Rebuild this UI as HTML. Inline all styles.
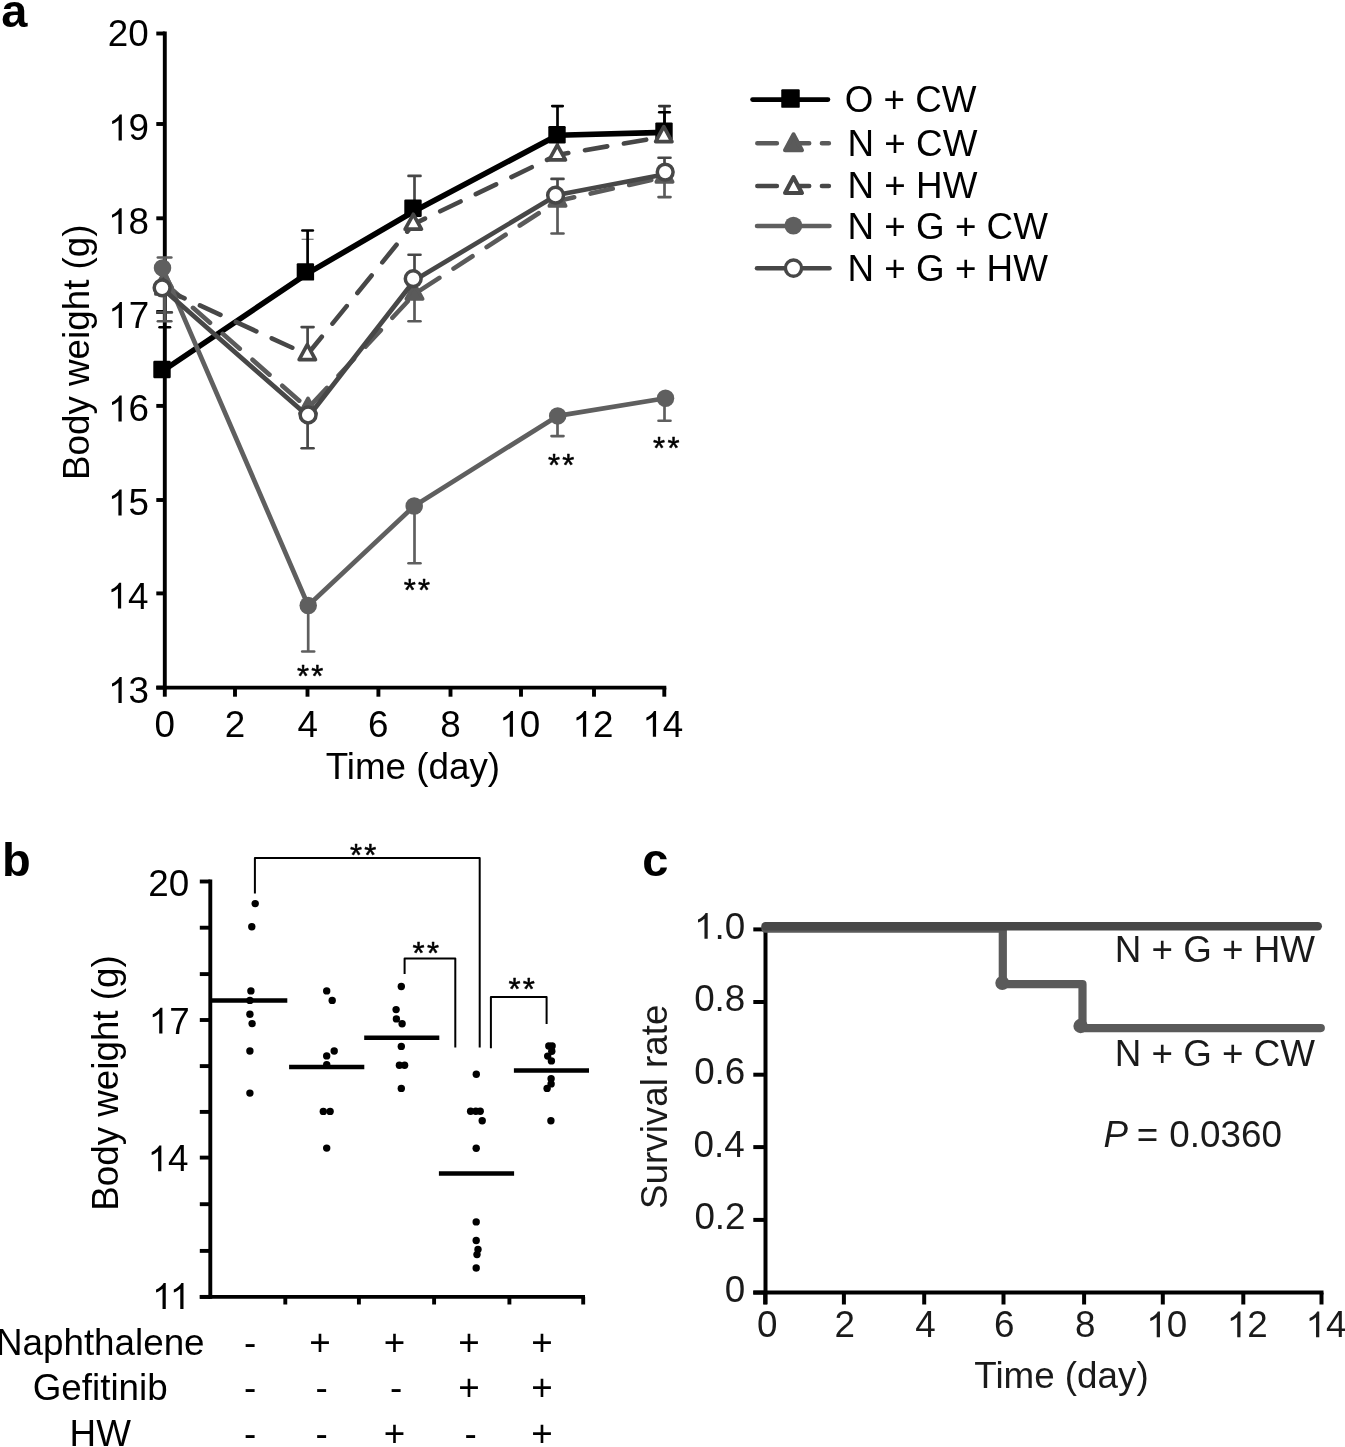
<!DOCTYPE html>
<html><head><meta charset="utf-8"><style>
html,body{margin:0;padding:0;background:#fff;}
svg{display:block;will-change:transform;}
text{font-family:"Liberation Sans", sans-serif;}
</style></head><body>
<svg width="1345" height="1447" viewBox="0 0 1345 1447">
<rect width="1345" height="1447" fill="#fff"/>
<g transform="translate(1.32,27.00) scale(1,1.0)"><text x="0" y="0" font-size="47" font-weight="bold" font-style="normal" fill="#000">a</text></g>
<line x1="164.8" y1="31.55" x2="164.8" y2="689.5" stroke="#000" stroke-width="3.9" stroke-linecap="butt"/>
<line x1="156.3" y1="33.5" x2="164.8" y2="33.5" stroke="#000" stroke-width="3.9" stroke-linecap="butt"/>
<line x1="156.3" y1="124" x2="164.8" y2="124" stroke="#000" stroke-width="3.9" stroke-linecap="butt"/>
<line x1="156.3" y1="218.3" x2="164.8" y2="218.3" stroke="#000" stroke-width="3.9" stroke-linecap="butt"/>
<line x1="156.3" y1="312" x2="164.8" y2="312" stroke="#000" stroke-width="3.9" stroke-linecap="butt"/>
<line x1="156.3" y1="405.9" x2="164.8" y2="405.9" stroke="#000" stroke-width="3.9" stroke-linecap="butt"/>
<line x1="156.3" y1="500" x2="164.8" y2="500" stroke="#000" stroke-width="3.9" stroke-linecap="butt"/>
<line x1="156.3" y1="593.4" x2="164.8" y2="593.4" stroke="#000" stroke-width="3.9" stroke-linecap="butt"/>
<line x1="156.3" y1="687.6" x2="164.8" y2="687.6" stroke="#000" stroke-width="3.9" stroke-linecap="butt"/>
<line x1="156.3" y1="687.6" x2="666.3" y2="687.6" stroke="#000" stroke-width="3.9" stroke-linecap="butt"/>
<line x1="164.8" y1="687.6" x2="164.8" y2="696.7" stroke="#000" stroke-width="3.9" stroke-linecap="butt"/>
<line x1="235" y1="687.6" x2="235" y2="696.7" stroke="#000" stroke-width="3.9" stroke-linecap="butt"/>
<line x1="307.5" y1="687.6" x2="307.5" y2="696.7" stroke="#000" stroke-width="3.9" stroke-linecap="butt"/>
<line x1="378.4" y1="687.6" x2="378.4" y2="696.7" stroke="#000" stroke-width="3.9" stroke-linecap="butt"/>
<line x1="450.5" y1="687.6" x2="450.5" y2="696.7" stroke="#000" stroke-width="3.9" stroke-linecap="butt"/>
<line x1="521" y1="687.6" x2="521" y2="696.7" stroke="#000" stroke-width="3.9" stroke-linecap="butt"/>
<line x1="594" y1="687.6" x2="594" y2="696.7" stroke="#000" stroke-width="3.9" stroke-linecap="butt"/>
<line x1="664.3" y1="687.6" x2="664.3" y2="696.7" stroke="#000" stroke-width="3.9" stroke-linecap="butt"/>
<g transform="translate(107.80,45.60) scale(1,1.02)"><text x="0" y="0" font-size="36.8" font-weight="normal" font-style="normal" fill="#000">20</text></g>
<g transform="translate(108.11,140.40) scale(1,1.02)"><path d="M13.71,0.00L10.48,0.00L10.48,-19.67C9.70,-18.97 8.68,-18.27 7.42,-17.56C6.16,-16.86 5.03,-16.33 4.02,-15.97L4.02,-18.95C5.84,-19.76 7.42,-20.76 8.77,-21.92C10.12,-23.09 11.07,-24.22 11.63,-25.32L13.71,-25.32Z" fill="#000"/><text x="20.47" y="0" font-size="36.8" fill="#000">9</text></g>
<g transform="translate(107.97,234.00) scale(1,1.02)"><path d="M13.71,0.00L10.48,0.00L10.48,-19.67C9.70,-18.97 8.68,-18.27 7.42,-17.56C6.16,-16.86 5.03,-16.33 4.02,-15.97L4.02,-18.95C5.84,-19.76 7.42,-20.76 8.77,-21.92C10.12,-23.09 11.07,-24.22 11.63,-25.32L13.71,-25.32Z" fill="#000"/><text x="20.47" y="0" font-size="36.8" fill="#000">8</text></g>
<g transform="translate(108.22,327.90) scale(1,1.02)"><path d="M13.71,0.00L10.48,0.00L10.48,-19.67C9.70,-18.97 8.68,-18.27 7.42,-17.56C6.16,-16.86 5.03,-16.33 4.02,-15.97L4.02,-18.95C5.84,-19.76 7.42,-20.76 8.77,-21.92C10.12,-23.09 11.07,-24.22 11.63,-25.32L13.71,-25.32Z" fill="#000"/><text x="20.47" y="0" font-size="36.8" fill="#000">7</text></g>
<g transform="translate(107.98,421.40) scale(1,1.02)"><path d="M13.71,0.00L10.48,0.00L10.48,-19.67C9.70,-18.97 8.68,-18.27 7.42,-17.56C6.16,-16.86 5.03,-16.33 4.02,-15.97L4.02,-18.95C5.84,-19.76 7.42,-20.76 8.77,-21.92C10.12,-23.09 11.07,-24.22 11.63,-25.32L13.71,-25.32Z" fill="#000"/><text x="20.47" y="0" font-size="36.8" fill="#000">6</text></g>
<g transform="translate(107.91,515.40) scale(1,1.02)"><path d="M13.71,0.00L10.48,0.00L10.48,-19.67C9.70,-18.97 8.68,-18.27 7.42,-17.56C6.16,-16.86 5.03,-16.33 4.02,-15.97L4.02,-18.95C5.84,-19.76 7.42,-20.76 8.77,-21.92C10.12,-23.09 11.07,-24.22 11.63,-25.32L13.71,-25.32Z" fill="#000"/><text x="20.47" y="0" font-size="36.8" fill="#000">5</text></g>
<g transform="translate(107.45,608.60) scale(1,1.02)"><path d="M13.71,0.00L10.48,0.00L10.48,-19.67C9.70,-18.97 8.68,-18.27 7.42,-17.56C6.16,-16.86 5.03,-16.33 4.02,-15.97L4.02,-18.95C5.84,-19.76 7.42,-20.76 8.77,-21.92C10.12,-23.09 11.07,-24.22 11.63,-25.32L13.71,-25.32Z" fill="#000"/><text x="20.47" y="0" font-size="36.8" fill="#000">4</text></g>
<g transform="translate(107.98,702.90) scale(1,1.02)"><path d="M13.71,0.00L10.48,0.00L10.48,-19.67C9.70,-18.97 8.68,-18.27 7.42,-17.56C6.16,-16.86 5.03,-16.33 4.02,-15.97L4.02,-18.95C5.84,-19.76 7.42,-20.76 8.77,-21.92C10.12,-23.09 11.07,-24.22 11.63,-25.32L13.71,-25.32Z" fill="#000"/><text x="20.47" y="0" font-size="36.8" fill="#000">3</text></g>
<g transform="translate(154.57,736.80) scale(1,1.02)"><text x="0" y="0" font-size="36.8" font-weight="normal" font-style="normal" fill="#000">0</text></g>
<g transform="translate(224.77,736.80) scale(1,1.02)"><text x="0" y="0" font-size="36.8" font-weight="normal" font-style="normal" fill="#000">2</text></g>
<g transform="translate(297.38,736.80) scale(1,1.02)"><text x="0" y="0" font-size="36.8" font-weight="normal" font-style="normal" fill="#000">4</text></g>
<g transform="translate(368.04,736.80) scale(1,1.02)"><text x="0" y="0" font-size="36.8" font-weight="normal" font-style="normal" fill="#000">6</text></g>
<g transform="translate(440.27,736.80) scale(1,1.02)"><text x="0" y="0" font-size="36.8" font-weight="normal" font-style="normal" fill="#000">8</text></g>
<g transform="translate(499.24,736.80) scale(1,1.02)"><path d="M13.71,0.00L10.48,0.00L10.48,-19.67C9.70,-18.97 8.68,-18.27 7.42,-17.56C6.16,-16.86 5.03,-16.33 4.02,-15.97L4.02,-18.95C5.84,-19.76 7.42,-20.76 8.77,-21.92C10.12,-23.09 11.07,-24.22 11.63,-25.32L13.71,-25.32Z" fill="#000"/><text x="20.47" y="0" font-size="36.8" fill="#000">0</text></g>
<g transform="translate(572.45,736.80) scale(1,1.02)"><path d="M13.71,0.00L10.48,0.00L10.48,-19.67C9.70,-18.97 8.68,-18.27 7.42,-17.56C6.16,-16.86 5.03,-16.33 4.02,-15.97L4.02,-18.95C5.84,-19.76 7.42,-20.76 8.77,-21.92C10.12,-23.09 11.07,-24.22 11.63,-25.32L13.71,-25.32Z" fill="#000"/><text x="20.47" y="0" font-size="36.8" fill="#000">2</text></g>
<g transform="translate(642.36,736.80) scale(1,1.02)"><path d="M13.71,0.00L10.48,0.00L10.48,-19.67C9.70,-18.97 8.68,-18.27 7.42,-17.56C6.16,-16.86 5.03,-16.33 4.02,-15.97L4.02,-18.95C5.84,-19.76 7.42,-20.76 8.77,-21.92C10.12,-23.09 11.07,-24.22 11.63,-25.32L13.71,-25.32Z" fill="#000"/><text x="20.47" y="0" font-size="36.8" fill="#000">4</text></g>
<g transform="translate(325.67,779.40) scale(1,1.02)"><text x="0" y="0" font-size="36.8" font-weight="normal" font-style="normal" fill="#000">Time (day)</text></g>
<g transform="translate(89.00,480.02) rotate(-90) scale(1,1.02)"><text x="0" y="0" font-size="36.8" fill="#000">Body weight (g)</text></g>
<line x1="164.6" y1="268" x2="164.6" y2="257.5" stroke="#5f5f5f" stroke-width="2.7" stroke-linecap="butt"/>
<line x1="157.85" y1="257.5" x2="171.35" y2="257.5" stroke="#5f5f5f" stroke-width="2.6" stroke-linecap="round"/>
<line x1="164.6" y1="288" x2="164.6" y2="312.4" stroke="#474747" stroke-width="2.7" stroke-linecap="butt"/>
<line x1="157.35" y1="312.4" x2="171.85" y2="312.4" stroke="#474747" stroke-width="2.6" stroke-linecap="round"/>
<line x1="164.6" y1="288" x2="164.6" y2="321.2" stroke="#5a5a5a" stroke-width="2.7" stroke-linecap="butt"/>
<line x1="157.85" y1="321.2" x2="171.35" y2="321.2" stroke="#5a5a5a" stroke-width="2.6" stroke-linecap="round"/>
<line x1="307.6" y1="354.6" x2="307.6" y2="327.1" stroke="#474747" stroke-width="2.7" stroke-linecap="butt"/>
<line x1="301.6" y1="327.1" x2="313.6" y2="327.1" stroke="#474747" stroke-width="2.6" stroke-linecap="round"/>
<line x1="307.6" y1="415" x2="307.6" y2="448.2" stroke="#474747" stroke-width="2.7" stroke-linecap="butt"/>
<line x1="301.6" y1="448.2" x2="313.6" y2="448.2" stroke="#474747" stroke-width="2.6" stroke-linecap="round"/>
<line x1="308.2" y1="605.5" x2="308.2" y2="651.5" stroke="#5f5f5f" stroke-width="2.7" stroke-linecap="butt"/>
<line x1="302.2" y1="651.5" x2="314.2" y2="651.5" stroke="#5f5f5f" stroke-width="2.6" stroke-linecap="round"/>
<line x1="414.5" y1="224.2" x2="414.5" y2="175.9" stroke="#474747" stroke-width="2.7" stroke-linecap="butt"/>
<line x1="408.5" y1="175.9" x2="420.5" y2="175.9" stroke="#474747" stroke-width="2.6" stroke-linecap="round"/>
<line x1="414.5" y1="279" x2="414.5" y2="254.8" stroke="#474747" stroke-width="2.7" stroke-linecap="butt"/>
<line x1="408.5" y1="254.8" x2="420.5" y2="254.8" stroke="#474747" stroke-width="2.6" stroke-linecap="round"/>
<line x1="414.5" y1="295.4" x2="414.5" y2="321.2" stroke="#5a5a5a" stroke-width="2.7" stroke-linecap="butt"/>
<line x1="408.5" y1="321.2" x2="420.5" y2="321.2" stroke="#5a5a5a" stroke-width="2.6" stroke-linecap="round"/>
<line x1="414.5" y1="506" x2="414.5" y2="563.2" stroke="#5f5f5f" stroke-width="2.7" stroke-linecap="butt"/>
<line x1="408.5" y1="563.2" x2="420.5" y2="563.2" stroke="#5f5f5f" stroke-width="2.6" stroke-linecap="round"/>
<line x1="557.5" y1="195.2" x2="557.5" y2="178.9" stroke="#474747" stroke-width="2.7" stroke-linecap="butt"/>
<line x1="551.5" y1="178.9" x2="563.5" y2="178.9" stroke="#474747" stroke-width="2.6" stroke-linecap="round"/>
<line x1="557.5" y1="204.2" x2="557.5" y2="233.5" stroke="#5a5a5a" stroke-width="2.7" stroke-linecap="butt"/>
<line x1="551.5" y1="233.5" x2="563.5" y2="233.5" stroke="#5a5a5a" stroke-width="2.6" stroke-linecap="round"/>
<line x1="557.5" y1="416" x2="557.5" y2="436.1" stroke="#5f5f5f" stroke-width="2.7" stroke-linecap="butt"/>
<line x1="551.5" y1="436.1" x2="563.5" y2="436.1" stroke="#5f5f5f" stroke-width="2.6" stroke-linecap="round"/>
<line x1="557.5" y1="155" x2="557.5" y2="140" stroke="#474747" stroke-width="2.7" stroke-linecap="butt"/>
<line x1="551.5" y1="140" x2="563.5" y2="140" stroke="#474747" stroke-width="2.6" stroke-linecap="round"/>
<line x1="664.5" y1="136.6" x2="664.5" y2="106.1" stroke="#333" stroke-width="2.7" stroke-linecap="butt"/>
<line x1="659.25" y1="106.1" x2="669.75" y2="106.1" stroke="#333" stroke-width="2.6" stroke-linecap="round"/>
<line x1="664.5" y1="172.1" x2="664.5" y2="157.7" stroke="#474747" stroke-width="2.7" stroke-linecap="butt"/>
<line x1="658.5" y1="157.7" x2="670.5" y2="157.7" stroke="#474747" stroke-width="2.6" stroke-linecap="round"/>
<line x1="664.5" y1="176" x2="664.5" y2="197.1" stroke="#5a5a5a" stroke-width="2.7" stroke-linecap="butt"/>
<line x1="658.5" y1="197.1" x2="670.5" y2="197.1" stroke="#5a5a5a" stroke-width="2.6" stroke-linecap="round"/>
<line x1="664.5" y1="398.3" x2="664.5" y2="420.7" stroke="#5f5f5f" stroke-width="2.7" stroke-linecap="butt"/>
<line x1="658.5" y1="420.7" x2="670.5" y2="420.7" stroke="#5f5f5f" stroke-width="2.6" stroke-linecap="round"/>
<line x1="164.8" y1="369.5" x2="164.8" y2="327.3" stroke="#000" stroke-width="2.7" stroke-linecap="butt"/>
<line x1="159.55" y1="327.3" x2="170.05" y2="327.3" stroke="#000" stroke-width="2.6" stroke-linecap="round"/>
<line x1="301.6" y1="239.3" x2="313.6" y2="239.3" stroke="#777" stroke-width="1.2" stroke-linecap="butt"/>
<line x1="307.6" y1="271.9" x2="307.6" y2="230.5" stroke="#000" stroke-width="2.7" stroke-linecap="butt"/>
<line x1="302.35" y1="230.5" x2="312.85" y2="230.5" stroke="#000" stroke-width="2.6" stroke-linecap="round"/>
<line x1="557.5" y1="134.7" x2="557.5" y2="106.1" stroke="#000" stroke-width="2.7" stroke-linecap="butt"/>
<line x1="552.25" y1="106.1" x2="562.75" y2="106.1" stroke="#000" stroke-width="2.6" stroke-linecap="round"/>
<line x1="664.5" y1="131.1" x2="664.5" y2="112.2" stroke="#000" stroke-width="2.7" stroke-linecap="butt"/>
<line x1="659.25" y1="112.2" x2="669.75" y2="112.2" stroke="#000" stroke-width="2.6" stroke-linecap="round"/>
<polyline points="164.8,369.5 307.5,273.4 414.5,211.0 557.5,135.3 664.5,132.4" fill="none" stroke="#000" stroke-width="5.6" stroke-linecap="round" stroke-linejoin="round"/>
<rect x="153.30" y="360.80" width="17.4" height="17.4" rx="1.2" fill="#000"/>
<rect x="296.70" y="263.20" width="17.4" height="17.4" rx="1.2" fill="#000"/>
<rect x="404.30" y="199.60" width="17.4" height="17.4" rx="1.2" fill="#000"/>
<rect x="548.30" y="126.00" width="17.4" height="17.4" rx="1.2" fill="#000"/>
<rect x="655.30" y="122.40" width="17.4" height="17.4" rx="1.2" fill="#000"/>
<polyline points="164.0,282.5 308,408.3 414.5,294.0 557.5,201.0 664.5,177.0" fill="none" stroke="#5a5a5a" stroke-width="4.6" stroke-linecap="round" stroke-linejoin="round" stroke-dasharray="22.6 16.9" stroke-dashoffset="1"/>
<polygon points="164.0,272.57 172.15,287.47 155.85,287.47" fill="#5a5a5a" stroke="#5a5a5a" stroke-width="3.7" stroke-linejoin="round"/>
<polygon points="308,398.37 316.15,413.27 299.85,413.27" fill="#5a5a5a" stroke="#5a5a5a" stroke-width="3.7" stroke-linejoin="round"/>
<polygon points="414.5,284.07 422.65,298.97 406.35,298.97" fill="#5a5a5a" stroke="#5a5a5a" stroke-width="3.7" stroke-linejoin="round"/>
<polygon points="557.5,191.07 565.65,205.97 549.35,205.97" fill="#5a5a5a" stroke="#5a5a5a" stroke-width="3.7" stroke-linejoin="round"/>
<polygon points="664.5,167.07 672.65,181.97 656.35,181.97" fill="#5a5a5a" stroke="#5a5a5a" stroke-width="3.7" stroke-linejoin="round"/>
<polyline points="164.0,289 307.3,354.6 413.3,224.2 557.3,155.0 663.8,136.6" fill="none" stroke="#474747" stroke-width="4.6" stroke-linecap="round" stroke-linejoin="round" stroke-dasharray="22.6 16.9" stroke-dashoffset="0"/>
<polygon points="164.0,279.07 172.15,293.97 155.85,293.97" fill="#fff" stroke="#474747" stroke-width="3.7" stroke-linejoin="round"/>
<polygon points="307.3,344.67 315.45,359.57 299.15,359.57" fill="#fff" stroke="#474747" stroke-width="3.7" stroke-linejoin="round"/>
<polygon points="413.3,214.27 421.45,229.17 405.15,229.17" fill="#fff" stroke="#474747" stroke-width="3.7" stroke-linejoin="round"/>
<polygon points="557.3,145.07 565.45,159.97 549.15,159.97" fill="#fff" stroke="#474747" stroke-width="3.7" stroke-linejoin="round"/>
<polygon points="663.8,126.67 671.95,141.57 655.65,141.57" fill="#fff" stroke="#474747" stroke-width="3.7" stroke-linejoin="round"/>
<polyline points="162.5,267.9 308.2,605.5 414.2,506 557.7,415.9 665.5,398.3" fill="none" stroke="#5f5f5f" stroke-width="4.7" stroke-linecap="round" stroke-linejoin="round"/>
<circle cx="162.5" cy="267.9" r="8.75" fill="#5f5f5f"/>
<circle cx="308.2" cy="605.5" r="8.75" fill="#5f5f5f"/>
<circle cx="414.2" cy="506" r="8.75" fill="#5f5f5f"/>
<circle cx="557.7" cy="415.9" r="8.75" fill="#5f5f5f"/>
<circle cx="665.5" cy="398.3" r="8.75" fill="#5f5f5f"/>
<polyline points="163.5,289.5 308.5,416.5 414.5,280.3 557.0,195.0 665.2,174.3" fill="none" stroke="#474747" stroke-width="4.7" stroke-linecap="round" stroke-linejoin="round"/>
<circle cx="162.1" cy="287.8" r="7.9" fill="#fff" stroke="#474747" stroke-width="3.5"/>
<circle cx="308.1" cy="415" r="7.9" fill="#fff" stroke="#474747" stroke-width="3.5"/>
<circle cx="413.2" cy="278.7" r="7.9" fill="#fff" stroke="#474747" stroke-width="3.5"/>
<circle cx="555.6" cy="195.2" r="7.9" fill="#fff" stroke="#474747" stroke-width="3.5"/>
<circle cx="665.2" cy="172.1" r="7.9" fill="#fff" stroke="#474747" stroke-width="3.5"/>
<g transform="translate(296.98,687.00) scale(1,1.0)"><text x="0" y="0" font-size="31" font-weight="normal" font-style="normal" fill="#000" letter-spacing="2.3" stroke="#000" stroke-width="0.5" stroke-linejoin="round">**</text></g>
<g transform="translate(403.68,601.20) scale(1,1.0)"><text x="0" y="0" font-size="31" font-weight="normal" font-style="normal" fill="#000" letter-spacing="2.3" stroke="#000" stroke-width="0.5" stroke-linejoin="round">**</text></g>
<g transform="translate(547.98,476.30) scale(1,1.0)"><text x="0" y="0" font-size="31" font-weight="normal" font-style="normal" fill="#000" letter-spacing="2.3" stroke="#000" stroke-width="0.5" stroke-linejoin="round">**</text></g>
<g transform="translate(653.08,459.10) scale(1,1.0)"><text x="0" y="0" font-size="31" font-weight="normal" font-style="normal" fill="#000" letter-spacing="2.3" stroke="#000" stroke-width="0.5" stroke-linejoin="round">**</text></g>
<line x1="752.5" y1="99.6" x2="828" y2="99.6" stroke="#000" stroke-width="4.6" stroke-linecap="round"/>
<rect x="781.25" y="89.35" width="18.5" height="18.5" rx="1.2" fill="#000"/>
<line x1="757.3" y1="143.2" x2="828.9" y2="143.2" stroke="#5a5a5a" stroke-width="4.5" stroke-linecap="round" stroke-dasharray="19.6 12.7"/>
<polygon points="793.5,134.40 801.90,150.20 785.10,150.20" fill="#5a5a5a" stroke="#5a5a5a" stroke-width="4.2" stroke-linejoin="round"/>
<line x1="757.3" y1="185.9" x2="828.9" y2="185.9" stroke="#474747" stroke-width="4.5" stroke-linecap="round" stroke-dasharray="19.6 12.7"/>
<polygon points="793.5,177.20 801.90,193.00 785.10,193.00" fill="#fff" stroke="#474747" stroke-width="4.2" stroke-linejoin="round"/>
<line x1="757" y1="226.1" x2="829.5" y2="226.1" stroke="#5f5f5f" stroke-width="4.5" stroke-linecap="round"/>
<circle cx="793.4" cy="225.6" r="8.9" fill="#5f5f5f"/>
<line x1="757" y1="268.3" x2="829.5" y2="268.3" stroke="#474747" stroke-width="4.5" stroke-linecap="round"/>
<circle cx="793.5" cy="268.1" r="8.1" fill="#fff" stroke="#474747" stroke-width="3.4"/>
<g transform="translate(844.76,111.50) scale(1,1.02)"><text x="0" y="0" font-size="36.8" font-weight="normal" font-style="normal" fill="#000">O + CW</text></g>
<g transform="translate(847.58,155.70) scale(1,1.02)"><text x="0" y="0" font-size="36.8" font-weight="normal" font-style="normal" fill="#000">N + CW</text></g>
<g transform="translate(847.58,198.00) scale(1,1.02)"><text x="0" y="0" font-size="36.8" font-weight="normal" font-style="normal" fill="#000">N + HW</text></g>
<g transform="translate(847.58,239.40) scale(1,1.02)"><text x="0" y="0" font-size="36.8" font-weight="normal" font-style="normal" fill="#000">N + G + CW</text></g>
<g transform="translate(847.58,281.00) scale(1,1.02)"><text x="0" y="0" font-size="36.8" font-weight="normal" font-style="normal" fill="#000">N + G + HW</text></g>
<g transform="translate(2.00,875.60) scale(1,1.0)"><text x="0" y="0" font-size="47" font-weight="bold" font-style="normal" fill="#000">b</text></g>
<line x1="210.3" y1="879.55" x2="210.3" y2="1298.8" stroke="#000" stroke-width="3.9" stroke-linecap="butt"/>
<line x1="199.8" y1="881.5" x2="210.3" y2="881.5" stroke="#000" stroke-width="3.9" stroke-linecap="butt"/>
<line x1="199.8" y1="927.7" x2="210.3" y2="927.7" stroke="#000" stroke-width="3.9" stroke-linecap="butt"/>
<line x1="199.8" y1="974.1" x2="210.3" y2="974.1" stroke="#000" stroke-width="3.9" stroke-linecap="butt"/>
<line x1="199.8" y1="1020" x2="210.3" y2="1020" stroke="#000" stroke-width="3.9" stroke-linecap="butt"/>
<line x1="199.8" y1="1066.1" x2="210.3" y2="1066.1" stroke="#000" stroke-width="3.9" stroke-linecap="butt"/>
<line x1="199.8" y1="1111.9" x2="210.3" y2="1111.9" stroke="#000" stroke-width="3.9" stroke-linecap="butt"/>
<line x1="199.8" y1="1157.6" x2="210.3" y2="1157.6" stroke="#000" stroke-width="3.9" stroke-linecap="butt"/>
<line x1="199.8" y1="1204.2" x2="210.3" y2="1204.2" stroke="#000" stroke-width="3.9" stroke-linecap="butt"/>
<line x1="199.8" y1="1250.9" x2="210.3" y2="1250.9" stroke="#000" stroke-width="3.9" stroke-linecap="butt"/>
<line x1="199.8" y1="1296.9" x2="210.3" y2="1296.9" stroke="#000" stroke-width="3.9" stroke-linecap="butt"/>
<line x1="199.8" y1="1296.9" x2="585" y2="1296.9" stroke="#000" stroke-width="3.9" stroke-linecap="butt"/>
<line x1="285.3" y1="1296.9" x2="285.3" y2="1304.5" stroke="#000" stroke-width="3.9" stroke-linecap="butt"/>
<line x1="358.9" y1="1296.9" x2="358.9" y2="1304.5" stroke="#000" stroke-width="3.9" stroke-linecap="butt"/>
<line x1="434.1" y1="1296.9" x2="434.1" y2="1304.5" stroke="#000" stroke-width="3.9" stroke-linecap="butt"/>
<line x1="509.4" y1="1296.9" x2="509.4" y2="1304.5" stroke="#000" stroke-width="3.9" stroke-linecap="butt"/>
<line x1="583.2" y1="1296.9" x2="583.2" y2="1304.5" stroke="#000" stroke-width="3.9" stroke-linecap="butt"/>
<g transform="translate(148.30,895.80) scale(1,1.02)"><text x="0" y="0" font-size="36.8" font-weight="normal" font-style="normal" fill="#000">20</text></g>
<g transform="translate(148.72,1033.60) scale(1,1.02)"><path d="M13.71,0.00L10.48,0.00L10.48,-19.67C9.70,-18.97 8.68,-18.27 7.42,-17.56C6.16,-16.86 5.03,-16.33 4.02,-15.97L4.02,-18.95C5.84,-19.76 7.42,-20.76 8.77,-21.92C10.12,-23.09 11.07,-24.22 11.63,-25.32L13.71,-25.32Z" fill="#000"/><text x="20.47" y="0" font-size="36.8" fill="#000">7</text></g>
<g transform="translate(147.65,1171.30) scale(1,1.02)"><path d="M13.71,0.00L10.48,0.00L10.48,-19.67C9.70,-18.97 8.68,-18.27 7.42,-17.56C6.16,-16.86 5.03,-16.33 4.02,-15.97L4.02,-18.95C5.84,-19.76 7.42,-20.76 8.77,-21.92C10.12,-23.09 11.07,-24.22 11.63,-25.32L13.71,-25.32Z" fill="#000"/><text x="20.47" y="0" font-size="36.8" fill="#000">4</text></g>
<g transform="translate(152.05,1308.90) scale(1,1.02)"><path d="M13.71,0.00L10.48,0.00L10.48,-19.67C9.70,-18.97 8.68,-18.27 7.42,-17.56C6.16,-16.86 5.03,-16.33 4.02,-15.97L4.02,-18.95C5.84,-19.76 7.42,-20.76 8.77,-21.92C10.12,-23.09 11.07,-24.22 11.63,-25.32L13.71,-25.32Z" fill="#000"/><path d="M31.45,0.00L28.21,0.00L28.21,-19.67C27.44,-18.97 26.41,-18.27 25.16,-17.56C23.90,-16.86 22.77,-16.33 21.76,-15.97L21.76,-18.95C23.57,-19.76 25.16,-20.76 26.50,-21.92C27.85,-23.09 28.80,-24.22 29.36,-25.32L31.45,-25.32Z" fill="#000"/></g>
<g transform="translate(118.20,1210.82) rotate(-90) scale(1,1.02)"><text x="0" y="0" font-size="36.8" fill="#000">Body weight (g)</text></g>
<line x1="210" y1="1000.6" x2="287.3" y2="1000.6" stroke="#000" stroke-width="4.5" stroke-linecap="butt"/>
<line x1="289.1" y1="1067" x2="364.3" y2="1067" stroke="#000" stroke-width="4.5" stroke-linecap="butt"/>
<line x1="364.2" y1="1037.8" x2="439.3" y2="1037.8" stroke="#000" stroke-width="4.5" stroke-linecap="butt"/>
<line x1="438.9" y1="1173.6" x2="514.1" y2="1173.6" stroke="#000" stroke-width="4.5" stroke-linecap="butt"/>
<line x1="513.9" y1="1070.5" x2="589" y2="1070.5" stroke="#000" stroke-width="4.5" stroke-linecap="butt"/>
<circle cx="255.2" cy="903.6" r="3.7" fill="#000"/>
<circle cx="251.8" cy="926.7" r="3.7" fill="#000"/>
<circle cx="250.9" cy="990.9" r="3.7" fill="#000"/>
<circle cx="249.9" cy="1000.4" r="3.7" fill="#000"/>
<circle cx="249.9" cy="1014.3" r="3.7" fill="#000"/>
<circle cx="252.1" cy="1023.6" r="3.7" fill="#000"/>
<circle cx="249.9" cy="1051" r="3.7" fill="#000"/>
<circle cx="249.9" cy="1093.1" r="3.7" fill="#000"/>
<circle cx="326.7" cy="990.9" r="3.7" fill="#000"/>
<circle cx="332.2" cy="1000.4" r="3.7" fill="#000"/>
<circle cx="334.2" cy="1051" r="3.7" fill="#000"/>
<circle cx="326.7" cy="1055.9" r="3.7" fill="#000"/>
<circle cx="326.7" cy="1064.8" r="3.7" fill="#000"/>
<circle cx="323.3" cy="1111.4" r="3.7" fill="#000"/>
<circle cx="330.1" cy="1111.4" r="3.7" fill="#000"/>
<circle cx="326.7" cy="1148.1" r="3.7" fill="#000"/>
<circle cx="401.3" cy="986.5" r="3.7" fill="#000"/>
<circle cx="396.1" cy="1009.6" r="3.7" fill="#000"/>
<circle cx="396.4" cy="1018.9" r="3.7" fill="#000"/>
<circle cx="402.1" cy="1023.7" r="3.7" fill="#000"/>
<circle cx="401.3" cy="1046.4" r="3.7" fill="#000"/>
<circle cx="399.4" cy="1065.3" r="3.7" fill="#000"/>
<circle cx="404.6" cy="1065.3" r="3.7" fill="#000"/>
<circle cx="401.3" cy="1088.4" r="3.7" fill="#000"/>
<circle cx="476.3" cy="1074.2" r="3.7" fill="#000"/>
<circle cx="470.6" cy="1111.2" r="3.7" fill="#000"/>
<circle cx="475.8" cy="1111.2" r="3.7" fill="#000"/>
<circle cx="480.2" cy="1111.2" r="3.7" fill="#000"/>
<circle cx="482.2" cy="1120.8" r="3.7" fill="#000"/>
<circle cx="476.2" cy="1148.3" r="3.7" fill="#000"/>
<circle cx="476.2" cy="1221.9" r="3.7" fill="#000"/>
<circle cx="476.2" cy="1240.5" r="3.7" fill="#000"/>
<circle cx="478" cy="1249.4" r="3.7" fill="#000"/>
<circle cx="477" cy="1254.6" r="3.7" fill="#000"/>
<circle cx="476.2" cy="1268" r="3.7" fill="#000"/>
<circle cx="548.8" cy="1046" r="3.7" fill="#000"/>
<circle cx="552.1" cy="1046" r="3.7" fill="#000"/>
<circle cx="551.8" cy="1051.2" r="3.7" fill="#000"/>
<circle cx="547.7" cy="1056.1" r="3.7" fill="#000"/>
<circle cx="551.4" cy="1060.9" r="3.7" fill="#000"/>
<circle cx="551.1" cy="1078.7" r="3.7" fill="#000"/>
<circle cx="551.1" cy="1083.9" r="3.7" fill="#000"/>
<circle cx="547.1" cy="1088.4" r="3.7" fill="#000"/>
<circle cx="550.9" cy="1120.8" r="3.7" fill="#000"/>
<polyline points="254.9,893.5 254.9,857.9 479.7,857.9 479.7,1047.5" fill="none" stroke="#000" stroke-width="2.0" stroke-linecap="butt" stroke-linejoin="round"/>
<polyline points="404.6,973.9 404.6,958.4 455.3,958.4 455.3,1047.5" fill="none" stroke="#000" stroke-width="2.0" stroke-linecap="butt" stroke-linejoin="round"/>
<polyline points="490.9,1048.2 490.9,996.9 546.6,996.9 546.6,1024" fill="none" stroke="#000" stroke-width="2.0" stroke-linecap="butt" stroke-linejoin="round"/>
<g transform="translate(349.88,865.90) scale(1,1.0)"><text x="0" y="0" font-size="31" font-weight="normal" font-style="normal" fill="#000" letter-spacing="2.3" stroke="#000" stroke-width="0.5" stroke-linejoin="round">**</text></g>
<g transform="translate(412.58,963.60) scale(1,1.0)"><text x="0" y="0" font-size="31" font-weight="normal" font-style="normal" fill="#000" letter-spacing="2.3" stroke="#000" stroke-width="0.5" stroke-linejoin="round">**</text></g>
<g transform="translate(508.48,1000.40) scale(1,1.0)"><text x="0" y="0" font-size="31" font-weight="normal" font-style="normal" fill="#000" letter-spacing="2.3" stroke="#000" stroke-width="0.5" stroke-linejoin="round">**</text></g>
<g transform="translate(-4.05,1354.70) scale(1,1.02)"><text x="0" y="0" font-size="36.8" font-weight="normal" font-style="normal" fill="#000">Naphthalene</text></g>
<g transform="translate(32.75,1399.50) scale(1,1.02)"><text x="0" y="0" font-size="36.8" font-weight="normal" font-style="normal" fill="#000">Gefitinib</text></g>
<g transform="translate(69.60,1445.80) scale(1,1.02)"><text x="0" y="0" font-size="36.8" font-weight="normal" font-style="normal" fill="#000">HW</text></g>
<g transform="translate(244.07,1354.90) scale(1,1.02)"><text x="0" y="0" font-size="36.8" font-weight="normal" font-style="normal" fill="#000">-</text></g>
<g transform="translate(309.26,1354.90) scale(1,1.02)"><text x="0" y="0" font-size="36.8" font-weight="normal" font-style="normal" fill="#000">+</text></g>
<g transform="translate(383.76,1354.90) scale(1,1.02)"><text x="0" y="0" font-size="36.8" font-weight="normal" font-style="normal" fill="#000">+</text></g>
<g transform="translate(458.26,1354.90) scale(1,1.02)"><text x="0" y="0" font-size="36.8" font-weight="normal" font-style="normal" fill="#000">+</text></g>
<g transform="translate(531.36,1354.90) scale(1,1.02)"><text x="0" y="0" font-size="36.8" font-weight="normal" font-style="normal" fill="#000">+</text></g>
<g transform="translate(244.07,1400.00) scale(1,1.02)"><text x="0" y="0" font-size="36.8" font-weight="normal" font-style="normal" fill="#000">-</text></g>
<g transform="translate(315.57,1400.00) scale(1,1.02)"><text x="0" y="0" font-size="36.8" font-weight="normal" font-style="normal" fill="#000">-</text></g>
<g transform="translate(390.07,1400.00) scale(1,1.02)"><text x="0" y="0" font-size="36.8" font-weight="normal" font-style="normal" fill="#000">-</text></g>
<g transform="translate(458.26,1400.00) scale(1,1.02)"><text x="0" y="0" font-size="36.8" font-weight="normal" font-style="normal" fill="#000">+</text></g>
<g transform="translate(531.36,1400.00) scale(1,1.02)"><text x="0" y="0" font-size="36.8" font-weight="normal" font-style="normal" fill="#000">+</text></g>
<g transform="translate(244.07,1445.70) scale(1,1.02)"><text x="0" y="0" font-size="36.8" font-weight="normal" font-style="normal" fill="#000">-</text></g>
<g transform="translate(315.57,1445.70) scale(1,1.02)"><text x="0" y="0" font-size="36.8" font-weight="normal" font-style="normal" fill="#000">-</text></g>
<g transform="translate(383.76,1445.70) scale(1,1.02)"><text x="0" y="0" font-size="36.8" font-weight="normal" font-style="normal" fill="#000">+</text></g>
<g transform="translate(464.57,1445.70) scale(1,1.02)"><text x="0" y="0" font-size="36.8" font-weight="normal" font-style="normal" fill="#000">-</text></g>
<g transform="translate(531.36,1445.70) scale(1,1.02)"><text x="0" y="0" font-size="36.8" font-weight="normal" font-style="normal" fill="#000">+</text></g>
<g transform="translate(642.16,876.00) scale(1,1.0)"><text x="0" y="0" font-size="47" font-weight="bold" font-style="normal" fill="#000">c</text></g>
<line x1="765.5" y1="927.4499999999999" x2="765.5" y2="1304.3" stroke="#000" stroke-width="4.0" stroke-linecap="butt"/>
<line x1="753.3" y1="929.4" x2="765.5" y2="929.4" stroke="#000" stroke-width="4.0" stroke-linecap="butt"/>
<line x1="753.3" y1="1002" x2="765.5" y2="1002" stroke="#000" stroke-width="4.0" stroke-linecap="butt"/>
<line x1="753.3" y1="1074.7" x2="765.5" y2="1074.7" stroke="#000" stroke-width="4.0" stroke-linecap="butt"/>
<line x1="753.3" y1="1147.1" x2="765.5" y2="1147.1" stroke="#000" stroke-width="4.0" stroke-linecap="butt"/>
<line x1="753.3" y1="1219.9" x2="765.5" y2="1219.9" stroke="#000" stroke-width="4.0" stroke-linecap="butt"/>
<line x1="753.3" y1="1292.6" x2="765.5" y2="1292.6" stroke="#000" stroke-width="4.0" stroke-linecap="butt"/>
<line x1="753.3" y1="1292.6" x2="1323.5" y2="1292.6" stroke="#000" stroke-width="4.0" stroke-linecap="butt"/>
<line x1="765.2" y1="1292.6" x2="765.2" y2="1304.5" stroke="#000" stroke-width="4.0" stroke-linecap="butt"/>
<line x1="843.9" y1="1292.6" x2="843.9" y2="1304.5" stroke="#000" stroke-width="4.0" stroke-linecap="butt"/>
<line x1="924.2" y1="1292.6" x2="924.2" y2="1304.5" stroke="#000" stroke-width="4.0" stroke-linecap="butt"/>
<line x1="1003.5" y1="1292.6" x2="1003.5" y2="1304.5" stroke="#000" stroke-width="4.0" stroke-linecap="butt"/>
<line x1="1084.1" y1="1292.6" x2="1084.1" y2="1304.5" stroke="#000" stroke-width="4.0" stroke-linecap="butt"/>
<line x1="1162.8" y1="1292.6" x2="1162.8" y2="1304.5" stroke="#000" stroke-width="4.0" stroke-linecap="butt"/>
<line x1="1243.3" y1="1292.6" x2="1243.3" y2="1304.5" stroke="#000" stroke-width="4.0" stroke-linecap="butt"/>
<line x1="1321.5" y1="1292.6" x2="1321.5" y2="1304.5" stroke="#000" stroke-width="4.0" stroke-linecap="butt"/>
<g transform="translate(693.98,938.80) scale(1,1.02)"><path d="M13.71,0.00L10.48,0.00L10.48,-19.67C9.70,-18.97 8.68,-18.27 7.42,-17.56C6.16,-16.86 5.03,-16.33 4.02,-15.97L4.02,-18.95C5.84,-19.76 7.42,-20.76 8.77,-21.92C10.12,-23.09 11.07,-24.22 11.63,-25.32L13.71,-25.32Z" fill="#1a1a1a"/><text x="20.47" y="0" font-size="36.8" fill="#1a1a1a">.</text><text x="30.69" y="0" font-size="36.8" fill="#1a1a1a">0</text></g>
<g transform="translate(694.14,1011.40) scale(1,1.02)"><text x="0" y="0" font-size="36.8" font-weight="normal" font-style="normal" fill="#1a1a1a">0.8</text></g>
<g transform="translate(694.16,1084.10) scale(1,1.02)"><text x="0" y="0" font-size="36.8" font-weight="normal" font-style="normal" fill="#1a1a1a">0.6</text></g>
<g transform="translate(693.62,1156.50) scale(1,1.02)"><text x="0" y="0" font-size="36.8" font-weight="normal" font-style="normal" fill="#1a1a1a">0.4</text></g>
<g transform="translate(694.39,1229.30) scale(1,1.02)"><text x="0" y="0" font-size="36.8" font-weight="normal" font-style="normal" fill="#1a1a1a">0.2</text></g>
<g transform="translate(724.67,1302.00) scale(1,1.02)"><text x="0" y="0" font-size="36.8" font-weight="normal" font-style="normal" fill="#1a1a1a">0</text></g>
<g transform="translate(757.07,1337.30) scale(1,1.02)"><text x="0" y="0" font-size="36.8" font-weight="normal" font-style="normal" fill="#1a1a1a">0</text></g>
<g transform="translate(834.57,1337.30) scale(1,1.02)"><text x="0" y="0" font-size="36.8" font-weight="normal" font-style="normal" fill="#1a1a1a">2</text></g>
<g transform="translate(915.18,1337.30) scale(1,1.02)"><text x="0" y="0" font-size="36.8" font-weight="normal" font-style="normal" fill="#1a1a1a">4</text></g>
<g transform="translate(994.04,1337.30) scale(1,1.02)"><text x="0" y="0" font-size="36.8" font-weight="normal" font-style="normal" fill="#1a1a1a">6</text></g>
<g transform="translate(1074.97,1337.30) scale(1,1.02)"><text x="0" y="0" font-size="36.8" font-weight="normal" font-style="normal" fill="#1a1a1a">8</text></g>
<g transform="translate(1146.24,1337.30) scale(1,1.02)"><path d="M13.71,0.00L10.48,0.00L10.48,-19.67C9.70,-18.97 8.68,-18.27 7.42,-17.56C6.16,-16.86 5.03,-16.33 4.02,-15.97L4.02,-18.95C5.84,-19.76 7.42,-20.76 8.77,-21.92C10.12,-23.09 11.07,-24.22 11.63,-25.32L13.71,-25.32Z" fill="#1a1a1a"/><text x="20.47" y="0" font-size="36.8" fill="#1a1a1a">0</text></g>
<g transform="translate(1226.75,1337.30) scale(1,1.02)"><path d="M13.71,0.00L10.48,0.00L10.48,-19.67C9.70,-18.97 8.68,-18.27 7.42,-17.56C6.16,-16.86 5.03,-16.33 4.02,-15.97L4.02,-18.95C5.84,-19.76 7.42,-20.76 8.77,-21.92C10.12,-23.09 11.07,-24.22 11.63,-25.32L13.71,-25.32Z" fill="#1a1a1a"/><text x="20.47" y="0" font-size="36.8" fill="#1a1a1a">2</text></g>
<g transform="translate(1305.56,1337.30) scale(1,1.02)"><path d="M13.71,0.00L10.48,0.00L10.48,-19.67C9.70,-18.97 8.68,-18.27 7.42,-17.56C6.16,-16.86 5.03,-16.33 4.02,-15.97L4.02,-18.95C5.84,-19.76 7.42,-20.76 8.77,-21.92C10.12,-23.09 11.07,-24.22 11.63,-25.32L13.71,-25.32Z" fill="#1a1a1a"/><text x="20.47" y="0" font-size="36.8" fill="#1a1a1a">4</text></g>
<g transform="translate(974.27,1387.90) scale(1,1.02)"><text x="0" y="0" font-size="36.8" font-weight="normal" font-style="normal" fill="#1a1a1a">Time (day)</text></g>
<g transform="translate(666.90,1208.97) rotate(-90) scale(1,1.02)"><text x="0" y="0" font-size="36.8" fill="#1a1a1a">Survival rate</text></g>
<polyline points="765.5,928.6 1002.8,928.6 1002.8,984.2 1082.5,984.2 1082.5,1028.1 1320.8,1028.1" fill="none" stroke="#5a5a5a" stroke-width="8.2" stroke-linecap="round" stroke-linejoin="round"/>
<circle cx="1002.3" cy="983" r="7.0" fill="#5a5a5a"/>
<circle cx="1080.6" cy="1026" r="7.2" fill="#5a5a5a"/>
<polyline points="765.5,926.3 1317.8,926.3" fill="none" stroke="#474747" stroke-width="8.4" stroke-linecap="round" stroke-linejoin="round"/>
<g transform="translate(1114.78,962.40) scale(1,1.02)"><text x="0" y="0" font-size="36.8" font-weight="normal" font-style="normal" fill="#1a1a1a">N + G + HW</text></g>
<g transform="translate(1114.78,1066.30) scale(1,1.02)"><text x="0" y="0" font-size="36.8" font-weight="normal" font-style="normal" fill="#1a1a1a">N + G + CW</text></g>
<g transform="translate(1103.47,1146.90) scale(1,1.02)"><text x="0" y="0" font-size="36.8" font-weight="normal" font-style="italic" fill="#1a1a1a">P</text></g>
<g transform="translate(1136.86,1146.90) scale(1,1.02)"><text x="0" y="0" font-size="36.8" font-weight="normal" font-style="normal" fill="#1a1a1a">=</text></g>
<g transform="translate(1169.36,1146.90) scale(1,1.02)"><text x="0" y="0" font-size="36.8" font-weight="normal" font-style="normal" fill="#1a1a1a">0.0360</text></g>
</svg>
</body></html>
